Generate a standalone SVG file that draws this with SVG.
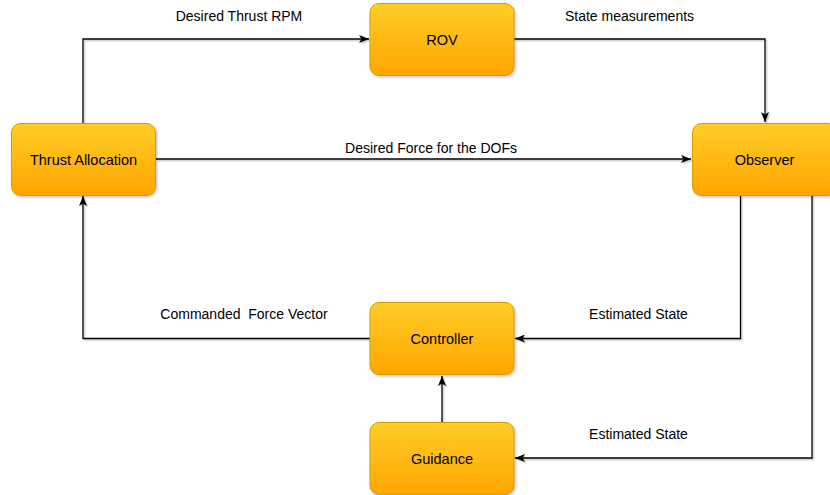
<svg xmlns="http://www.w3.org/2000/svg" width="830" height="495" viewBox="0 0 830 495">
  <defs>
    <linearGradient id="orange" x1="0" y1="0" x2="0" y2="1">
      <stop offset="0" stop-color="#ffcd28"/>
      <stop offset="1" stop-color="#ffa500"/>
    </linearGradient>
    <filter id="shadow" x="-10%" y="-10%" width="120%" height="130%">
      <feDropShadow dx="1.5" dy="1.5" stdDeviation="0.8" flood-color="#000" flood-opacity="0.22"/>
    </filter>
    <!-- straight edges have a zero-size bbox, so their shadow region is given in user space -->
    <filter id="edge-shadow" filterUnits="userSpaceOnUse" x="0" y="0" width="830" height="495">
      <feDropShadow dx="1.5" dy="1.5" stdDeviation="0.6" flood-color="#000" flood-opacity="0.22"/>
    </filter>
    <marker id="arrow" viewBox="0 0 10 8" refX="10" refY="4" markerWidth="10" markerHeight="8" markerUnits="userSpaceOnUse" orient="auto">
      <path d="M0,0 L10,4 L0,8 L2.5,4 Z" fill="#000"/>
    </marker>
  </defs>
  <style>
    .box { fill: url(#orange); stroke: #d79b00; stroke-width: 1; filter: url(#shadow); }
    .node-label { font-family: "Liberation Sans", Arial, sans-serif; font-size: 14.5px; fill: #000; text-anchor: middle; }
    .edge { fill: none; stroke: #000; stroke-width: 1.3; marker-end: url(#arrow); }
    .edge-label { font-family: "Liberation Sans", Arial, sans-serif; font-size: 14px; fill: #000; text-anchor: middle; }
  </style>
  <rect width="830" height="495" fill="#fff"/>

  <g id="connectors">
    <g filter="url(#edge-shadow)">
      <!-- Thrust Allocation -> ROV -->
      <path class="edge" d="M83,123 V39 H369"/>
      <!-- ROV -> Observer -->
      <path class="edge" d="M514,39 H765 V122"/>
      <!-- Thrust Allocation -> Observer -->
      <path class="edge" d="M156,159 H691"/>
      <!-- Observer -> Controller -->
      <path class="edge" d="M740.5,195 V338.5 H515"/>
      <!-- Observer -> Guidance -->
      <path class="edge" d="M812,195 V458 H515"/>
      <!-- Guidance -> Controller -->
      <path class="edge" d="M442,422 V376"/>
      <!-- Controller -> Thrust Allocation -->
      <path class="edge" d="M370,338.5 H83 V196"/>
    </g>

    <text class="edge-label" x="239" y="21">Desired Thrust RPM</text>
    <text class="edge-label" x="629.5" y="21">State measurements</text>
    <text class="edge-label" x="431" y="152.5">Desired Force for the DOFs</text>
    <text class="edge-label" x="244" y="319" xml:space="preserve">Commanded  Force Vector</text>
    <text class="edge-label" x="638.5" y="319">Estimated State</text>
    <text class="edge-label" x="638.5" y="439">Estimated State</text>
  </g>

  <g id="rov">
    <rect class="box" x="370" y="3.5" width="144" height="72" rx="9"/>
    <text class="node-label" x="442" y="44.5">ROV</text>
  </g>
  <g id="thrust-allocation">
    <rect class="box" x="11.5" y="123.5" width="144" height="72" rx="9"/>
    <text class="node-label" x="83.5" y="164.5">Thrust Allocation</text>
  </g>
  <g id="observer">
    <rect class="box" x="692.5" y="123.5" width="144" height="72" rx="9"/>
    <text class="node-label" x="764.5" y="164.5">Observer</text>
  </g>
  <g id="controller">
    <rect class="box" x="370" y="302.5" width="144" height="72" rx="9"/>
    <text class="node-label" x="442" y="343.5">Controller</text>
  </g>
  <g id="guidance">
    <rect class="box" x="370" y="422.5" width="144" height="72" rx="9"/>
    <text class="node-label" x="442" y="463.5">Guidance</text>
  </g>
</svg>
